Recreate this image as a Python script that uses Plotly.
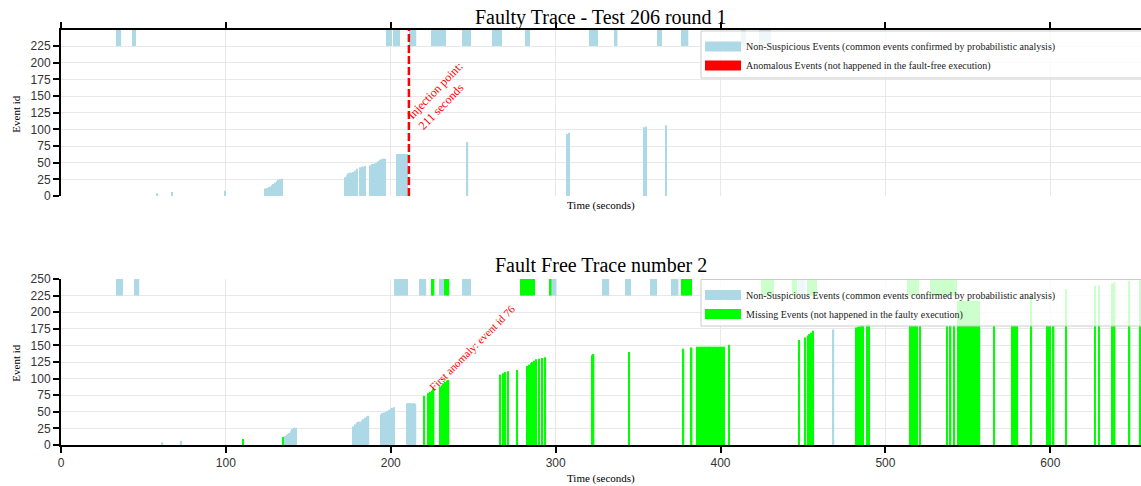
import plotly.graph_objects as go

# ---------------- data ----------------
x_ticks = [0, 100, 200, 300, 400, 500, 600]
y_ticks_top = [0, 25, 50, 75, 100, 125, 150, 175, 200, 225]
y_ticks_bot = [0, 25, 50, 75, 100, 125, 150, 175, 200, 225, 250]

band_low = 225
band_high = 250

# Faulty trace (top) - non suspicious events
top_ns_time = [58.5, 67.5, 99.5,
               124, 125, 126, 127, 128, 129, 130, 131, 132, 133, 134,
               172.5, 173.5, 174.5, 175.5, 176.5, 177.5, 178.5, 179.5,
               181.5, 182.5, 183.5, 184.5,
               187.5, 188.5, 189.5, 190.5, 191.5, 192.5, 193.5, 194.5, 195.5, 196.5,
               204, 205, 206, 207, 208, 209, 210,
               246.5, 307, 308, 354, 355, 367]
top_ns_id = [4, 6, 8,
             11, 12, 13, 14, 16, 18, 20, 22, 24, 25, 26,
             28, 31, 34, 35, 35, 36, 38, 41,
             43, 44, 44, 45,
             46, 48, 48, 49, 50, 52, 54, 55, 56, 56,
             63, 63, 63, 63, 63, 63, 63,
             81, 93, 95, 103, 104, 106]
# events with ids beyond the band start (drawn in the top band)
top_band_time = [34, 35, 36, 44, 45,
                 198, 199, 200, 202, 203, 204, 205,
                 212, 213, 214, 215,
                 225, 226, 227, 228, 229, 230, 231, 232, 233,
                 244, 245, 246, 247, 248,
                 262, 263, 264, 265, 266, 267,
                 282, 283, 284,
                 321, 322, 323, 324, 325,
                 336, 337, 362, 363, 364,
                 377, 378, 379, 380,
                 413, 414, 415,
                 424, 425, 426, 427, 428, 429, 430]

injection_time = 211

# Fault free trace (bottom) - non suspicious events
bot_ns_time = [61.5, 73,
               135.5, 136.5, 137.5, 138.5, 139.5, 140.5, 141.5, 142.5,
               177.5, 178.5, 179.5, 180.5, 181.5, 182.5, 183.5, 184.5, 185.5, 186.5,
               194, 195, 196, 197, 198, 199, 200, 201, 202,
               210, 211, 212, 213, 214, 215,
               468.5]
bot_ns_id = [4, 6,
             13, 14, 16, 18, 21, 24, 26, 26,
             28, 31, 34, 35, 35, 37, 39, 41, 43, 44,
             46, 48, 49, 50, 51, 53, 55, 56, 57,
             63, 63, 63, 63, 63, 62,
             174]
# Fault free trace (bottom) - missing events
bot_miss_time = [110.5, 134.5,
                 220, 223, 224, 225, 226,
                 230, 231, 232, 233, 234, 235,
                 266.5, 268, 269.5, 271, 276.5,
                 283, 284, 285, 286, 287, 288, 290, 292, 293.5,
                 322, 323, 344.5, 377.5, 382.5,
                 386, 387, 388, 389, 390, 391, 392, 393, 394, 395, 396, 397, 398, 399, 400, 401, 402,
                 405, 447.5, 451.5, 453, 454, 455, 456,
                 482.5, 483.5, 484.5, 485.5, 486.5, 489, 490,
                 515, 516, 517, 518, 519, 521,
                 537.5, 539.5, 541.5,
                 544, 545, 546, 547, 548, 549, 550, 551, 552, 553, 554, 555, 556, 557,
                 566, 577, 578, 579, 580, 588.5, 598, 599, 600, 602, 609.5,
                 627, 629.5, 637.5, 639, 648, 654.5]
bot_miss_id = [9, 12,
               74, 78, 80, 82, 85,
               88, 90, 93, 95, 97, 98,
               106, 108, 110, 111, 113,
               119, 121, 123, 125, 127, 129, 130, 131, 132,
               135, 137, 140, 145, 147,
               148, 148, 148, 148, 148, 148, 148, 148, 148, 148, 148, 148, 148, 148, 148, 148, 148,
               151, 158, 162, 165, 167, 169, 172,
               177, 178, 179, 180, 181, 182, 182,
               180, 180, 180, 180, 180, 180,
               180, 180, 180,
               217, 217, 217, 217, 217, 217, 217, 217, 217, 217, 217, 217, 217, 217,
               180, 180, 180, 180, 180, 228, 180, 180, 180, 180, 235,
               240, 241, 243, 245, 247, 248]
bot_band_ns_time = [34, 35, 36, 37, 45, 46, 47,
                    203, 204, 205, 206, 207, 208, 209, 210,
                    218, 219, 220, 221,
                    230, 231, 232,
                    244, 245, 246, 247, 248,
                    298, 299, 300,
                    329, 330, 331, 332,
                    343, 344, 345,
                    358, 359, 360, 361,
                    371, 372, 373, 374,
                    448, 449, 450, 451]
bot_band_miss_time = [225, 226, 233, 234, 235,
                      279, 280, 281, 282, 283, 284, 285, 286, 287,
                      297,
                      377, 378, 379, 380, 381, 382,
                      425, 426, 427, 428, 429, 430, 431, 432,
                      444, 445, 446,
                      453, 454, 455, 456, 457, 458,
                      514, 515, 516, 517, 518, 519, 520,
                      528, 529, 530, 531, 532, 533, 534, 535, 536, 537, 538, 539, 540, 541, 542, 543]

first_anomaly_time = 220
first_anomaly_id = 76

legend_ns = "Non-Suspicious Events (common events confirmed by probabilistic analysis)"
legend_anom = "Anomalous Events (not happened in the fault-free execution)"
legend_miss = "Missing Events (not happened in the faulty execution)"

# ---------------- style ----------------
BLUE = "#ADD8E6"
GREEN = "#00FF00"
RED = "#FF0000"
SERIF = "Liberation Serif, Times New Roman, serif"
SANS = "Liberation Sans, Arial, sans-serif"
BW = 0.9

W, H = 1141, 486
ML = 61

def py(p):
    return 1 - p / H

def px(p):
    return (p - ML) / (W - ML)

fig = go.Figure()

# top chart bars
fig.add_trace(go.Bar(x=top_ns_time, y=top_ns_id, width=BW, marker=dict(color=BLUE, line=dict(width=0)),
                     xaxis="x", yaxis="y", showlegend=False, hoverinfo="x+y"))
fig.add_trace(go.Bar(x=top_band_time, y=[band_high - band_low] * len(top_band_time), base=band_low, width=BW,
                     marker=dict(color=BLUE, line=dict(width=0)),
                     xaxis="x", yaxis="y", showlegend=False))
fig.add_trace(go.Scatter(x=[injection_time, injection_time], y=[0, band_high], mode="lines",
                         line=dict(color=RED, width=2.5, dash="8px,3px"),
                         xaxis="x", yaxis="y", showlegend=False, hoverinfo="skip"))
# top legend entries
fig.add_trace(go.Scatter(x=[None], y=[None], mode="lines", line=dict(color=BLUE, width=10),
                         name=legend_ns, xaxis="x", yaxis="y", legend="legend"))
fig.add_trace(go.Scatter(x=[None], y=[None], mode="lines", line=dict(color=RED, width=10),
                         name=legend_anom, xaxis="x", yaxis="y", legend="legend"))

# bottom chart bars
fig.add_trace(go.Bar(x=bot_ns_time, y=bot_ns_id, width=BW, marker=dict(color=BLUE, line=dict(width=0)),
                     xaxis="x2", yaxis="y2", showlegend=False))
fig.add_trace(go.Bar(x=bot_band_ns_time, y=[band_high - band_low] * len(bot_band_ns_time), base=band_low,
                     width=BW, marker=dict(color=BLUE, line=dict(width=0)),
                     xaxis="x2", yaxis="y2", showlegend=False))
fig.add_trace(go.Bar(x=bot_miss_time, y=bot_miss_id, width=BW, marker=dict(color=GREEN, line=dict(width=0)),
                     xaxis="x2", yaxis="y2", showlegend=False))
fig.add_trace(go.Bar(x=bot_band_miss_time, y=[band_high - band_low] * len(bot_band_miss_time), base=band_low,
                     width=BW, marker=dict(color=GREEN, line=dict(width=0)),
                     xaxis="x2", yaxis="y2", showlegend=False))
fig.add_trace(go.Scatter(x=[None], y=[None], mode="lines", line=dict(color=BLUE, width=10),
                         name=legend_ns, xaxis="x2", yaxis="y2", legend="legend2"))
fig.add_trace(go.Scatter(x=[None], y=[None], mode="lines", line=dict(color=GREEN, width=10),
                         name=legend_miss, xaxis="x2", yaxis="y2", legend="legend2"))

axis_common = dict(showline=True, linecolor="black", linewidth=2, ticks="outside", ticklen=6,
                   tickcolor="black", tickwidth=1.5, showgrid=True, gridcolor="#e8e8e8", gridwidth=1,
                   zeroline=False, automargin=False,
                   tickfont=dict(family=SANS, size=12, color="#333"))

xrange = [0, 655]
legend_common = dict(x=px(700), xanchor="left", yanchor="top", itemwidth=36,
                     bgcolor="rgba(0,0,0,0)", borderwidth=0,
                     font=dict(family=SERIF, size=10, color="#222"), tracegroupgap=0)
fig.update_layout(
    width=W, height=H,
    margin=dict(l=ML, r=0, t=0, b=0, autoexpand=False),
    paper_bgcolor="white", plot_bgcolor="white",
    barmode="overlay",
    xaxis=dict(axis_common, range=xrange, tickvals=x_ticks, side="top", anchor="y",
               showticklabels=False, domain=[0, 1]),
    yaxis=dict(axis_common, range=[0, 249], tickvals=y_ticks_top, anchor="x",
               domain=[py(196), py(30)]),
    xaxis2=dict(axis_common, range=xrange, tickvals=x_ticks, side="bottom", anchor="y2", domain=[0, 1]),
    yaxis2=dict(axis_common, range=[0, 250], tickvals=y_ticks_bot, anchor="x2",
                domain=[py(445), py(279)]),
    legend=dict(legend_common, y=py(32)),
    legend2=dict(legend_common, y=py(280.5)),
    showlegend=True,
)

# legend boxes (semi-transparent, running to the right edge)
box_style = dict(type="rect", xref="paper", yref="paper", layer="above",
                 fillcolor="rgba(255,255,255,0.8)", line=dict(color="#cccccc", width=1))
fig.add_shape(box_style, x0=px(701), x1=px(1150), y0=py(78), y1=py(31))
fig.add_shape(box_style, x0=px(701), x1=px(1150), y0=py(326), y1=py(279.5))

def label(text, xc, yc, size, **kw):
    return dict(text=text, x=xc, y=yc, xref="paper", yref="paper", xanchor="center", yanchor="middle",
                showarrow=False, font=dict(family=SERIF, size=size, color="black"), **kw)

ann = [
    label("Faulty Trace - Test 206 round 1", 0.5, py(17), 20),
    label("Fault Free Trace number 2", 0.5, py(265), 20),
    label("Time (seconds)", 0.5, py(205), 11),
    label("Time (seconds)", 0.5, py(478), 11),
    label("Event id", px(15.7), py(114), 11, textangle=-90),
    label("Event id", px(15.7), py(363), 11, textangle=-90),
]
ann.append(dict(text="Injection point:<br>211 seconds", x=injection_time, y=150, xref="x", yref="y",
                xanchor="center", yanchor="middle", xshift=32, align="left",
                showarrow=False, textangle=-46, font=dict(family=SERIF, size=12, color=RED)))
ann.append(dict(text="First anomaly: event id 76", x=first_anomaly_time, y=first_anomaly_id,
                xref="x2", yref="y2", xanchor="center", yanchor="middle", xshift=48, yshift=47,
                showarrow=False, textangle=-45, font=dict(family=SERIF, size=11, color=RED)))
fig.update_layout(annotations=ann)

fig.write_html("out.html", config={"displayModeBar": False},
               post_script="document.body.style.margin='0';document.body.style.overflow='hidden';")
